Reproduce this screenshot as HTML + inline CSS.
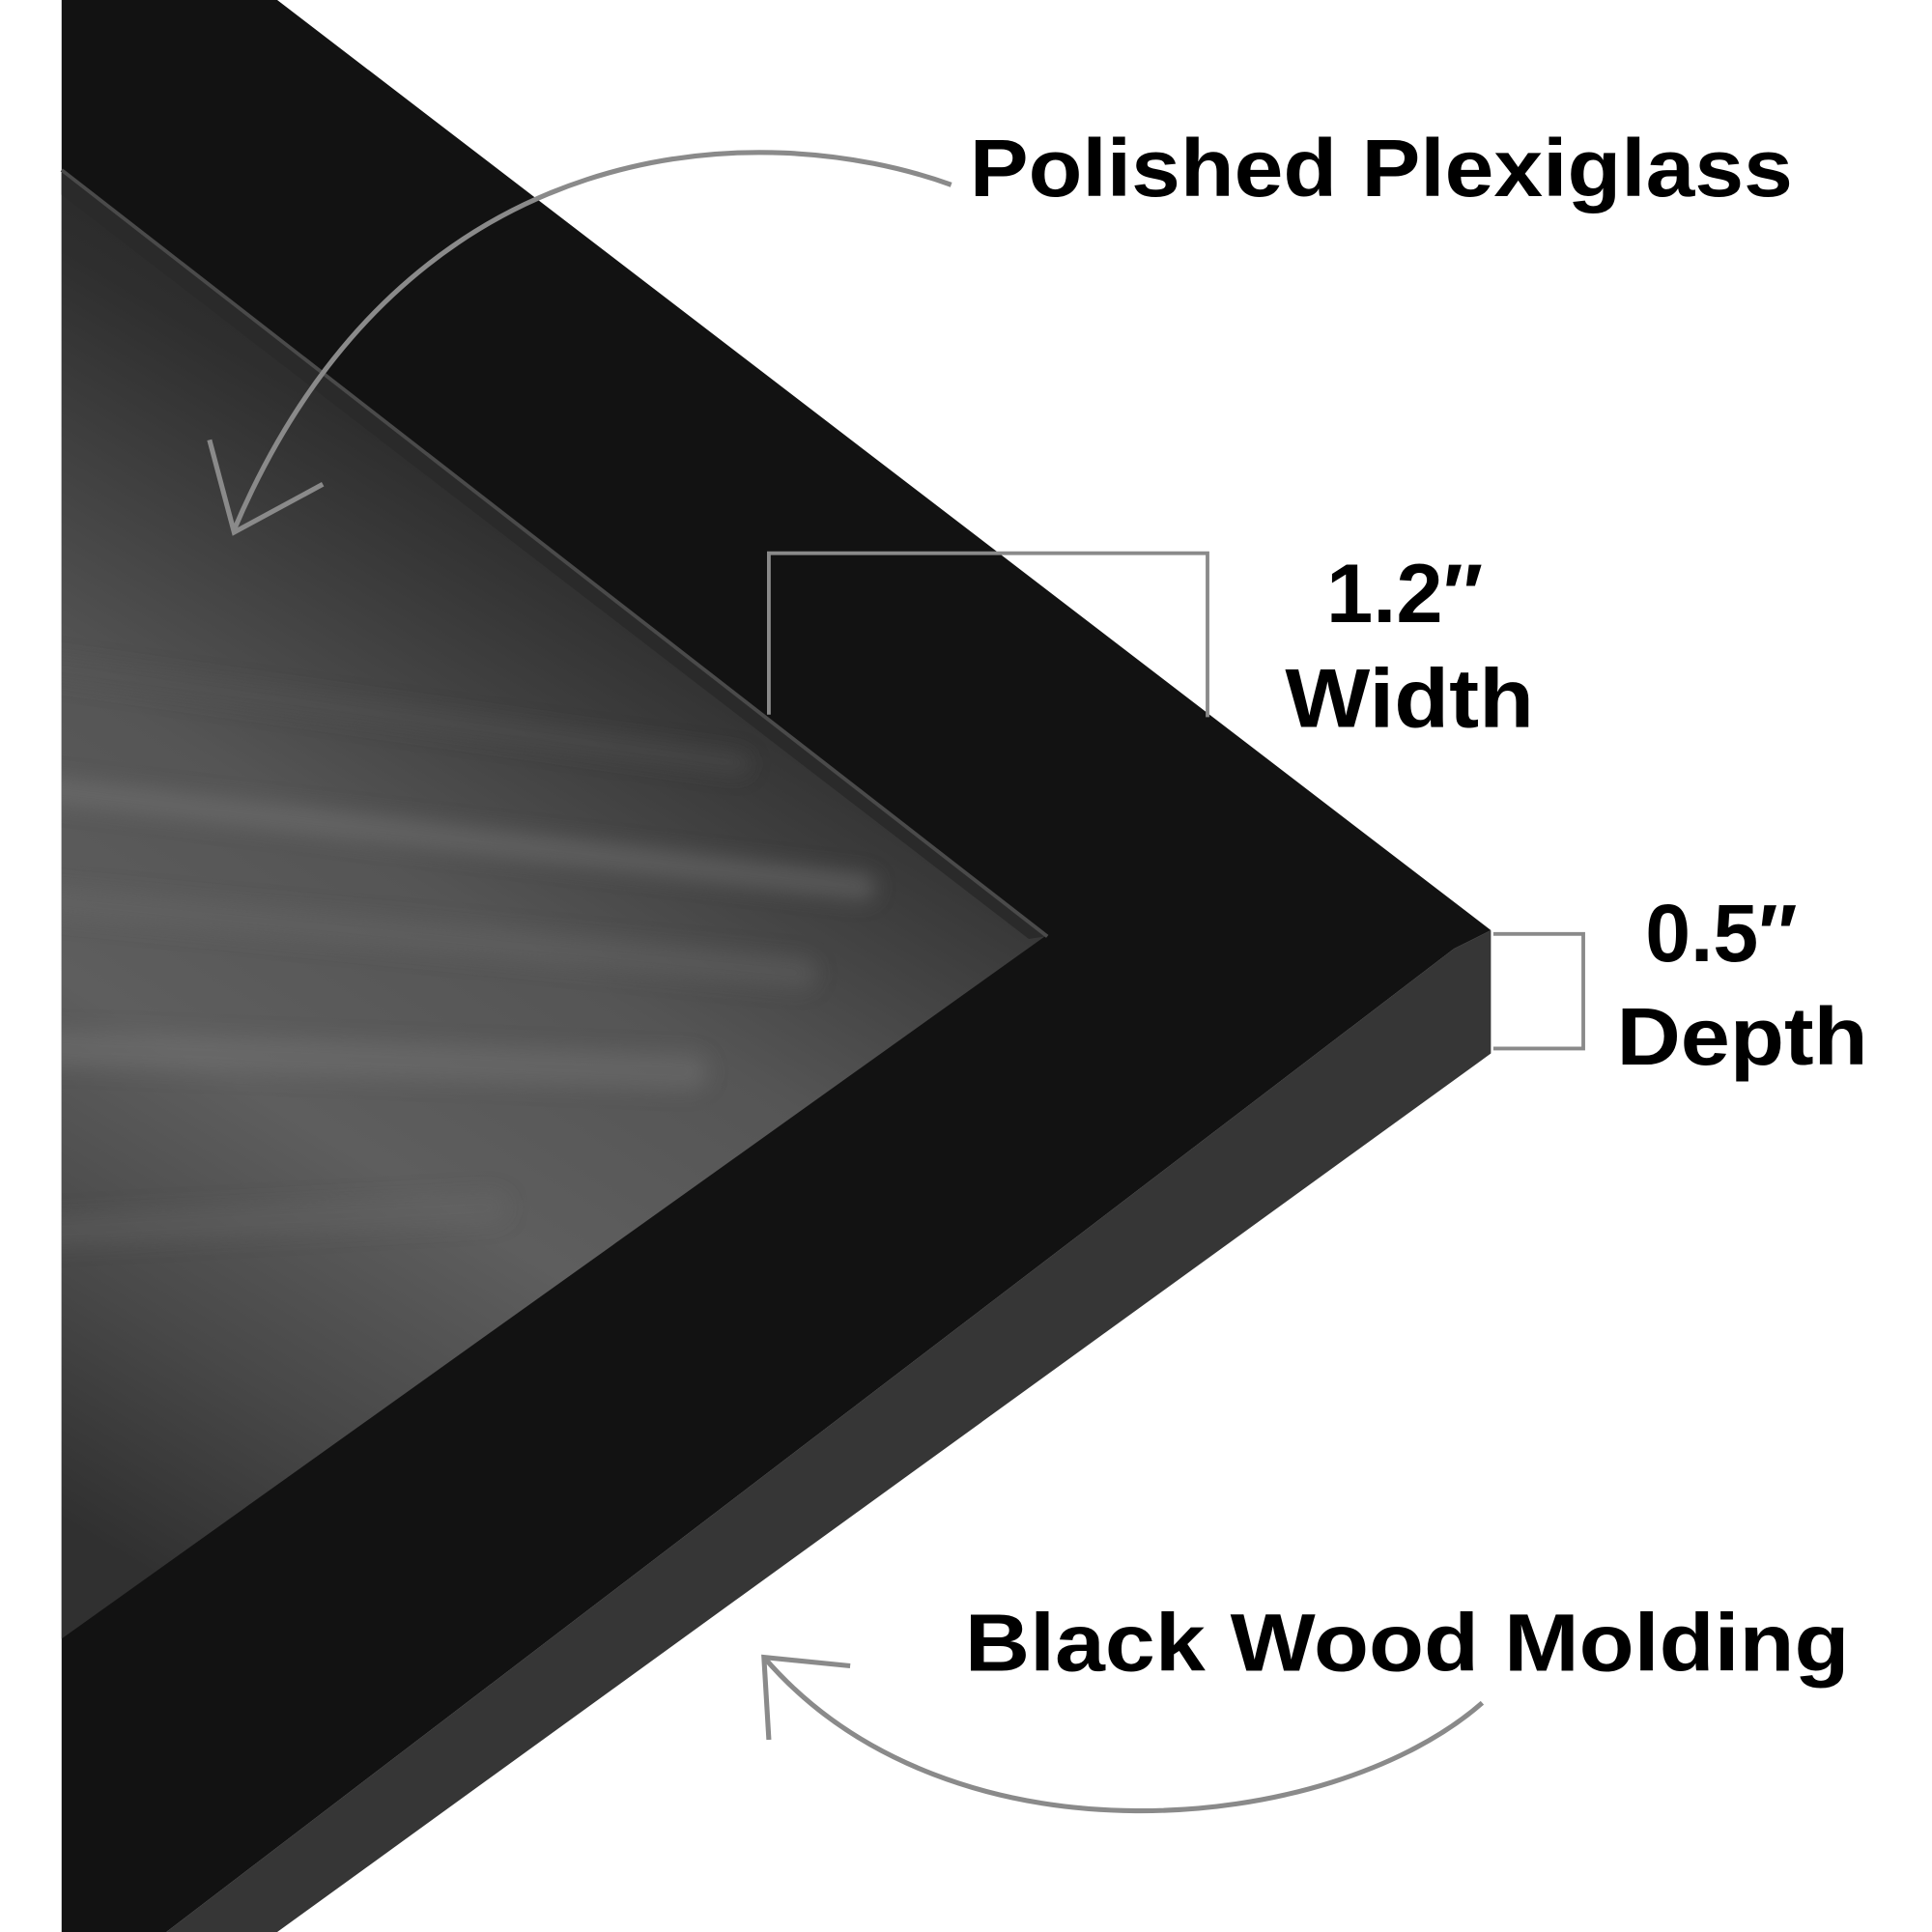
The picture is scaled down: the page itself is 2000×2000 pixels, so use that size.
<!DOCTYPE html>
<html><head><meta charset="utf-8"><style>
html,body{margin:0;padding:0;background:#fff;width:2000px;height:2000px;overflow:hidden}
svg{display:block}
text{font-family:"Liberation Sans",Arial,sans-serif;font-weight:bold;fill:#000}
</style></head><body>
<svg width="2000" height="2000" viewBox="0 0 1568 1568" xmlns="http://www.w3.org/2000/svg">
<defs>
<linearGradient id="ph" x1="0.6" y1="0" x2="0.2" y2="1">
<stop offset="0" stop-color="#1e1e1e"/>
<stop offset="0.25" stop-color="#2e2e2e"/>
<stop offset="0.5" stop-color="#555"/>
<stop offset="0.68" stop-color="#5e5e5e"/>
<stop offset="0.85" stop-color="#484848"/>
<stop offset="1" stop-color="#303030"/>
</linearGradient>
<filter id="bl" x="-20%" y="-50%" width="140%" height="200%"><feGaussianBlur stdDeviation="8"/></filter>
<clipPath id="cp"><polygon points="50,140 848,760 50,1330"/></clipPath>
</defs>
<rect width="1568" height="1568" fill="#fff"/>
<!-- side face -->
<polygon points="1210,755 1210,855 225,1568 135,1568 1180,770" fill="#363636"/>
<!-- front face -->
<polygon points="50,0 225,0 1210,755 1180,770 135,1568 50,1568" fill="#121212"/>
<!-- photo -->
<polygon points="50,140 848,760 50,1330" fill="url(#ph)"/>
<g clip-path="url(#cp)" filter="url(#bl)" fill="none" stroke-linecap="round">
<line x1="30" y1="640" x2="700" y2="720" stroke="#777" stroke-width="22" opacity="0.45"/>
<line x1="30" y1="730" x2="650" y2="790" stroke="#6a6a6a" stroke-width="26" opacity="0.4"/>
<line x1="30" y1="850" x2="560" y2="870" stroke="#7a7a7a" stroke-width="30" opacity="0.35"/>
<line x1="30" y1="540" x2="600" y2="620" stroke="#555" stroke-width="18" opacity="0.4"/>
<line x1="30" y1="1000" x2="400" y2="980" stroke="#6a6a6a" stroke-width="26" opacity="0.3"/>
</g>
<!-- plexiglass edge -->
<polygon points="50,140 848,760 835,762 50,158" fill="#2a2a2a"/>
<line x1="50" y1="138" x2="850" y2="760" stroke="#4a4a4a" stroke-width="3"/>
<!-- brackets -->
<polyline points="624,580 624,449 980,449 980,582" fill="none" stroke="#8a8a8a" stroke-width="3"/>
<polyline points="1212,758 1285,758 1285,851 1212,851" fill="none" stroke="#8a8a8a" stroke-width="3"/>
<!-- arrows -->
<path d="M772,150 C620,95 330,100 190,430" fill="none" stroke="#8a8a8a" stroke-width="4"/>
<polyline points="170,357 190,432 262,393" fill="none" stroke="#8a8a8a" stroke-width="4"/>
<path d="M1203,1382 C1080,1490 770,1520 620,1345" fill="none" stroke="#8a8a8a" stroke-width="4"/>
<polyline points="624,1412 620,1345 690,1352" fill="none" stroke="#8a8a8a" stroke-width="4"/>
<!-- text -->
<text x="787" y="159" font-size="66" textLength="668" lengthAdjust="spacingAndGlyphs">Polished Plexiglass</text>
<text x="1140" y="505" font-size="68" text-anchor="middle">1.2″</text>
<text x="1043" y="590" font-size="68" textLength="202" lengthAdjust="spacingAndGlyphs">Width</text>
<text x="1397" y="780" font-size="66" text-anchor="middle">0.5″</text>
<text x="1312" y="864" font-size="66" textLength="204" lengthAdjust="spacingAndGlyphs">Depth</text>
<text x="783" y="1356" font-size="66" textLength="718" lengthAdjust="spacingAndGlyphs">Black Wood Molding</text>
</svg>
</body></html>
